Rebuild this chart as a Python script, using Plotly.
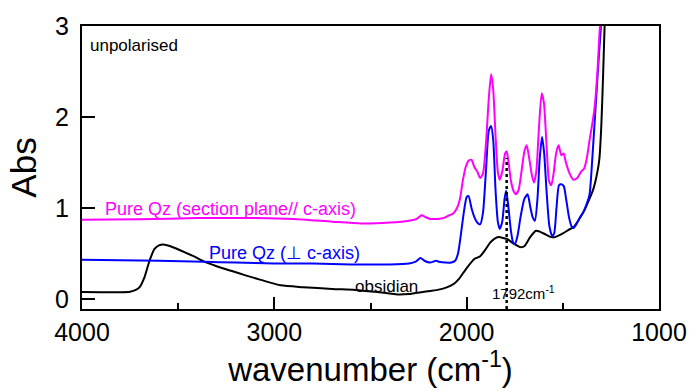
import plotly.graph_objects as go

# ---- spectra: wavenumber (cm-1) and absorbance ----
obsidian_wn = [4000, 3900, 3800, 3750, 3720, 3700, 3675, 3649, 3623, 3600, 3577, 3540,
               3484, 3420, 3365, 3300, 3225, 3150, 3070, 2967, 2850, 2700, 2580, 2480,
               2400, 2358, 2300, 2220, 2151, 2100, 2064, 2040, 2000, 1960, 1930, 1900,
               1878, 1850, 1831, 1810, 1790, 1770, 1749, 1720, 1700, 1670, 1640, 1620,
               1590, 1560, 1540, 1500, 1470, 1444, 1420, 1392, 1370, 1341, 1320, 1310,
               1300, 1290, 1280]
obsidian_abs = [0.076, 0.075, 0.075, 0.08, 0.10, 0.13, 0.24, 0.42, 0.55, 0.59, 0.60, 0.58,
                0.53, 0.47, 0.41, 0.36, 0.31, 0.26, 0.21, 0.15, 0.13, 0.11, 0.10, 0.08,
                0.06, 0.05, 0.055, 0.08, 0.10, 0.13, 0.17, 0.22, 0.34, 0.44, 0.47, 0.55,
                0.62, 0.67, 0.68, 0.67, 0.66, 0.63, 0.60, 0.57, 0.58, 0.68, 0.75, 0.74,
                0.71, 0.68, 0.68, 0.72, 0.76, 0.79, 0.86, 0.96, 1.06, 1.21, 1.40, 1.54,
                1.90, 2.50, 3.20]

perp_wn = [4000, 3800, 3600, 3365, 3200, 3000, 2800, 2600, 2400, 2300, 2265, 2240, 2220,
           2190, 2160, 2145, 2110, 2080, 2060, 2045, 2030, 2015, 2000, 1990, 1975, 1960,
           1945, 1930, 1915, 1900, 1885, 1873, 1862, 1850, 1838, 1828, 1815, 1803, 1795,
           1785, 1770, 1758, 1748, 1735, 1720, 1700, 1683, 1670, 1657, 1645, 1632, 1620,
           1608, 1597, 1585, 1570, 1555, 1545, 1533, 1520, 1508, 1495, 1483, 1468, 1455,
           1444, 1430, 1410, 1392, 1375, 1361, 1345, 1330, 1315, 1305, 1295]
perp_abs = [0.43, 0.425, 0.42, 0.41, 0.40, 0.39, 0.39, 0.38, 0.38, 0.39, 0.41, 0.45, 0.42,
            0.40, 0.42, 0.41, 0.40, 0.40, 0.42, 0.50, 0.71, 0.95, 1.12, 1.13, 1.00, 0.90,
            0.84, 0.82, 0.95, 1.40, 1.85, 1.90, 1.75, 1.20, 0.85, 0.77, 0.85, 1.10, 1.19,
            1.05, 0.75, 0.62, 0.61, 0.70, 0.90, 1.10, 1.15, 1.02, 0.90, 0.86, 1.10, 1.55,
            1.78, 1.60, 1.20, 0.80, 0.69, 0.72, 1.00, 1.25, 1.26, 1.24, 1.10, 0.90, 0.80,
            0.78, 0.82, 0.90, 0.96, 1.05, 1.15, 1.60, 2.10, 2.60, 2.90, 3.20]

para_wn = [4000, 3700, 3400, 3100, 2900, 2700, 2550, 2400, 2300, 2260, 2235, 2215, 2190,
           2150, 2120, 2090, 2070, 2050, 2035, 2020, 2005, 1990, 1975, 1960, 1945, 1930,
           1915, 1900, 1885, 1873, 1862, 1850, 1838, 1828, 1815, 1800, 1792, 1782, 1770,
           1755, 1745, 1730, 1715, 1700, 1688, 1675, 1660, 1650, 1638, 1625, 1610, 1598,
           1585, 1572, 1560, 1548, 1535, 1522, 1508, 1496, 1484, 1465, 1445, 1425, 1405,
           1390, 1375, 1360, 1345, 1335, 1320, 1310, 1300]
para_abs = [0.87, 0.875, 0.89, 0.89, 0.88, 0.85, 0.83, 0.84, 0.86, 0.88, 0.92, 0.90, 0.88,
            0.88, 0.89, 0.92, 0.94, 1.00, 1.10, 1.30, 1.45, 1.52, 1.53, 1.45, 1.40, 1.33,
            1.38, 1.70, 2.20, 2.47, 2.30, 1.80, 1.40, 1.31, 1.40, 1.60, 1.62, 1.50, 1.30,
            1.18, 1.15, 1.20, 1.40, 1.62, 1.69, 1.55, 1.35, 1.28, 1.40, 1.85, 2.26, 2.15,
            1.70, 1.30, 1.25, 1.38, 1.60, 1.69, 1.58, 1.60, 1.50, 1.38, 1.31, 1.33, 1.40,
            1.43, 1.55, 1.76, 1.95, 2.10, 2.50, 2.90, 3.20]

peak_wn = 1792
peak_line_abs = [-0.11, 1.55]

x_ticks = [4000, 3000, 2000, 1000]
y_ticks = [0, 1, 2, 3]

FONT = "Arial, 'Liberation Sans', sans-serif"
MAGENTA = "#ff00ff"
BLUE = "#0000ff"

fig = go.Figure()

for wn, ab, col in [(obsidian_wn, obsidian_abs, "black"),
                    (perp_wn, perp_abs, BLUE),
                    (para_wn, para_abs, MAGENTA)]:
    fig.add_trace(go.Scatter(
        x=wn, y=ab, mode="lines",
        line=dict(color=col, width=2, shape="spline", smoothing=0.6),
        hoverinfo="skip", showlegend=False))

# dotted marker line at the 1792 cm-1 band
fig.add_trace(go.Scatter(
    x=[peak_wn, peak_wn], y=peak_line_abs, mode="lines",
    line=dict(color="black", width=2.5, dash="dot"),
    hoverinfo="skip", showlegend=False))

def label(text, x, y, color, size, xanchor="left", xref="x", yref="y"):
    fig.add_annotation(text=text, x=x, y=y, xref=xref, yref=yref,
                       xanchor=xanchor, yanchor="middle", showarrow=False,
                       font=dict(family=FONT, size=size, color=color))

label("unpolarised", 0.010, 0.93, "black", 17, xref="paper", yref="paper")
label("Pure Qz (section plane// c-axis)", 3891, 0.985, MAGENTA, 18)
label("Pure Qz (\u22a5 c-axis)", 3349, 0.50, BLUE, 18)
label("obsidian", 2415, 0.14, "black", 17, xanchor="center")
label(f"{peak_wn}cm<sup>-1</sup>", 1702, 0.076, "black", 15, xanchor="center")

fig.update_layout(
    width=699, height=392,
    margin=dict(l=82, r=36, t=22, b=83),
    paper_bgcolor="white", plot_bgcolor="white",
    font=dict(family=FONT, color="black"),
    xaxis=dict(
        range=[4000, 1000], tickvals=x_ticks, ticks="inside", ticklen=12,
        tickwidth=2, tickcolor="black", showline=True, linewidth=2,
        linecolor="black", mirror=True, showgrid=False, zeroline=False,
        tickfont=dict(size=25), ticklabelstandoff=0,
        minor=dict(ticks="inside", ticklen=6, tickwidth=2, dtick=500,
                   tickcolor="black", showgrid=False),
        title=dict(text="wavenumber (cm<sup>-1</sup>)", font=dict(size=33),
                   standoff=8),
    ),
    yaxis=dict(
        range=[-0.11, 3.0], tickvals=y_ticks, ticks="inside", ticklen=13,
        tickwidth=2, tickcolor="black", showline=True, linewidth=2,
        linecolor="black", mirror=True, showgrid=False, zeroline=False,
        tickfont=dict(size=25), ticklabelstandoff=6,
        title=dict(text="Abs", font=dict(size=35), standoff=8),
    ),
)

fig.write_html("out.html")
